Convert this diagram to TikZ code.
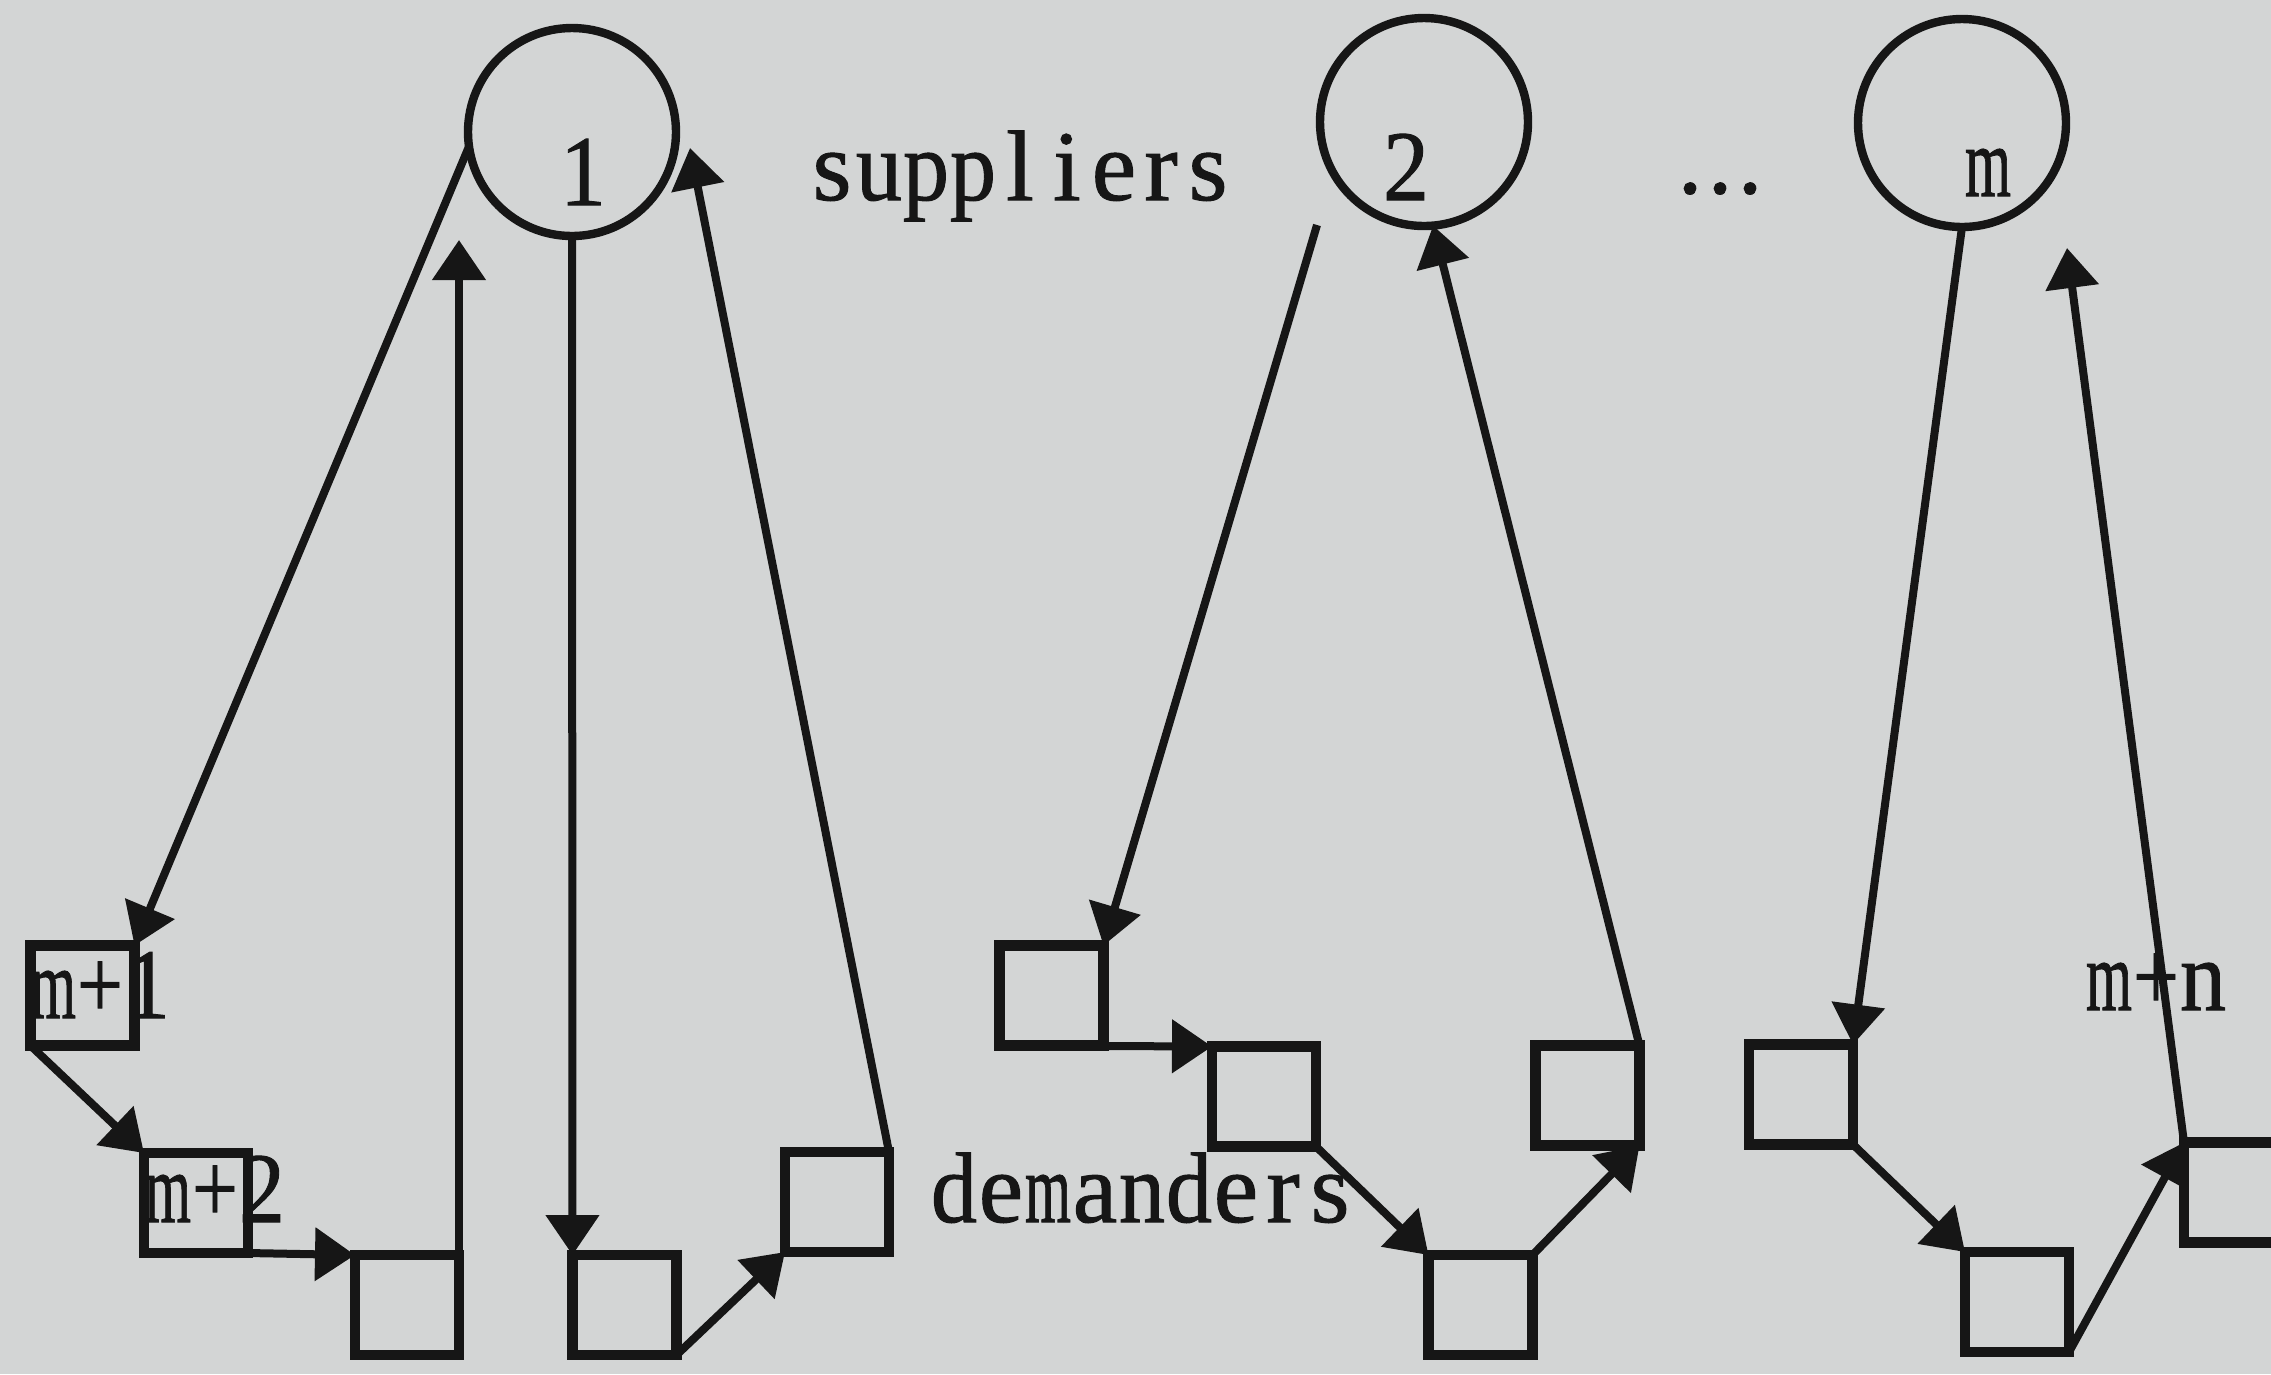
\documentclass[tikz,border=0pt]{standalone}
\usepackage{fontspec}
\usepackage{graphicx}
\setmainfont{Liberation Serif}
\newfontfamily\lblface{Liberation Serif}[FakeBold=1.0]
\usetikzlibrary{arrows.meta}

\definecolor{paper}{RGB}{211,213,213}
\definecolor{ink}{RGB}{22,22,22}

% fixed-pitch lettering: every glyph sits centred in a cell of equal width
\newsavebox\glyphbox
\newlength\cellw
\setlength\cellw{11.75pt}
\newcommand\cellchar[1]{%
  \sbox\glyphbox{#1}%
  \makebox[\cellw][c]{\ifdim\wd\glyphbox>0.98\cellw
    \resizebox{0.98\cellw}{\height}{\usebox\glyphbox}\else\usebox\glyphbox\fi}}
\def\monotext#1{\monoA#1\relax}
\def\monoA#1{\ifx#1\relax\else\cellchar{#1}\expandafter\monoA\fi}
\newcommand\lblfont{\lblface\fontsize{25pt}{29pt}\selectfont}

\begin{document}
\begin{tikzpicture}[x=0.25pt,y=-0.25pt,
  supplier/.style={circle,draw=ink,line width=2.1pt,minimum size=52pt,inner sep=0pt,outer sep=0pt},
  demander/.style={rectangle,draw=ink,line width=2.6pt,minimum width=26pt,minimum height=25pt,inner sep=0pt,outer sep=0pt},
  arr/.style={draw=ink,line width=2pt,-{Triangle[length=10pt,width=13pt]}},
  lbl/.style={inner sep=0pt,anchor=base,font=\lblfont,text=ink}]

\useasboundingbox (0,0) rectangle (2271,1374);
\fill[paper] (0,0) rectangle (2271,1374);
\clip (0,0) rectangle (2271,1374);

% suppliers
\node[supplier] (c1) at (572,132) {};
\node[supplier] (c2) at (1424,122) {};
\node[supplier] (cm) at (1962,123) {};

% demanders
\node[demander] (B1)  at (82.5,995.5) {};
\node[demander] (B2)  at (196,1203) {};
\node[demander] (B3)  at (407,1305) {};
\node[demander] (B4)  at (624.5,1305) {};
\node[demander] (B5)  at (837,1202) {};
\node[demander] (B6)  at (1051.5,995.5) {};
\node[demander] (B7)  at (1264,1096.5) {};
\node[demander] (B8)  at (1480.5,1305) {};
\node[demander] (B9)  at (1587.5,1095.5) {};
\node[demander] (B10) at (1801,1094.5) {};
\node[demander] (B11) at (2017,1302) {};
\node[demander] (B12) at (2236,1192.5) {};

% free ends of the tours
\coordinate (t1) at (459,240);
\coordinate (t2) at (690,148);
\coordinate (s2) at (1317,225);
\coordinate (t3) at (2067,248);

% labels
\node[lbl] (n1)  at (583,205)  {\monotext{1}};
\node[lbl] (sup) at (1020,200) {\monotext{suppliers}};
\node[lbl] (n2)  at (1406,200) {\monotext{2}};
\node[lbl] (dots) at (1720,193) {\setlength\cellw{7.5pt}\monotext{...}};
\node[lbl] (nm)  at (1988,196) {\monotext{m}};
\node[lbl] (l1)  at (100,1018) {\monotext{m+1}};
\node[lbl] (l2)  at (215,1222) {\monotext{m+2}};
\node[lbl] (dem) at (1142,1222) {\monotext{demanders}};
\node[lbl] (ln)  at (2156,1010) {\monotext{m+n}};

% tour of supplier 1
\draw[arr] (c1.188) -- (B1.north east);
\draw[arr] (B1.south west) -- (B2.north west);
\draw[arr] (B2.south east) -- (B3.north west);
\draw[arr] (B3.north east) -- (t1);
\draw[arr] (c1.south) -- (B4.north west);
\draw[arr] (B4.south east) -- (B5.south west);
\draw[arr] (B5.north east) -- (t2);

% tour of supplier 2
\draw[arr] (s2) -- (B6.north east);
\draw[arr] (B6.south west) -- (B7.north west);
\draw[arr] (B7.south east) -- (B8.north west);
\draw[arr] (B8.north east) -- (B9.south east);
\draw[arr] (B9.north east) -- (c2.-85);

% tour of supplier m
\draw[arr] (cm.south) -- (B10.north east);
\draw[arr] (B10.south east) -- (B11.north west);
\draw[arr] (B11.south east) -- (B12.north west);
\draw[arr] (B12.north west) -- (t3);
\end{tikzpicture}
\end{document}
